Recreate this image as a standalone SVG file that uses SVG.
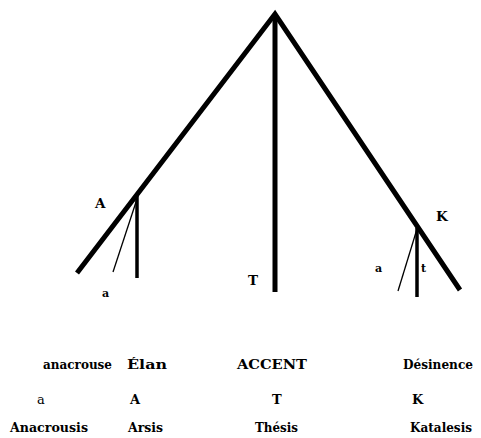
<svg xmlns="http://www.w3.org/2000/svg" width="481" height="438" viewBox="0 0 481 438">
<style>
.thick{stroke:#000;stroke-width:5;fill:none;stroke-linecap:butt}
.med{stroke:#000;stroke-width:3.5;fill:none}
.thin{stroke:#000;stroke-width:1.3;fill:none}
.b{font-weight:bold}
.lbl{font-size:13.5px;font-weight:bold}
.sm{font-size:11px;font-weight:bold}
.row{font-size:13px}
</style>
<rect width="481" height="438" fill="#fff"/>
<g id="connectors">
<path class="thick" d="M77,273 L275,14 L460,290"/>
<line class="thick" x1="275" y1="14" x2="275" y2="292"/>
<line class="med" x1="137" y1="195" x2="137" y2="278"/>
<line class="thin" x1="137" y1="199" x2="113" y2="272"/>
<line class="med" x1="417" y1="228" x2="417" y2="297"/>
<line class="thin" x1="417" y1="229" x2="398" y2="291"/>
</g>
<g font-family="DejaVu Serif, serif" fill="#000">
<g id="node-A"><text class="lbl" x="95" y="208">A</text></g>
<g id="node-a-left"><text class="sm" x="102" y="297">a</text></g>
<g id="node-T"><text class="lbl" x="248" y="285">T</text></g>
<g id="node-K"><text class="lbl" x="436" y="221">K</text></g>
<g id="node-a-right"><text class="sm" x="375" y="272">a</text></g>
<g id="node-t"><text class="sm" x="421" y="272">t</text></g>
<g id="legend">
<text class="row b" x="43" y="369" textLength="69" lengthAdjust="spacingAndGlyphs">anacrouse</text>
<text class="row b" x="127" y="369" textLength="40" lengthAdjust="spacingAndGlyphs">Élan</text>
<text class="row b" x="237" y="369" textLength="70" lengthAdjust="spacingAndGlyphs">ACCENT</text>
<text class="row b" x="403" y="369" textLength="70" lengthAdjust="spacingAndGlyphs">Désinence</text>
<text class="row" x="37" y="404">a</text>
<text class="row b" x="130" y="404">A</text>
<text class="row b" x="272" y="404">T</text>
<text class="row b" x="412" y="404">K</text>
<text class="row b" x="10" y="432" textLength="78" lengthAdjust="spacingAndGlyphs">Anacrousis</text>
<text class="row b" x="128" y="432" textLength="35" lengthAdjust="spacingAndGlyphs">Arsis</text>
<text class="row b" x="255" y="432" textLength="43" lengthAdjust="spacingAndGlyphs">Thésis</text>
<text class="row b" x="410" y="432" textLength="62" lengthAdjust="spacingAndGlyphs">Katalesis</text>
</g>
</g>
</svg>
